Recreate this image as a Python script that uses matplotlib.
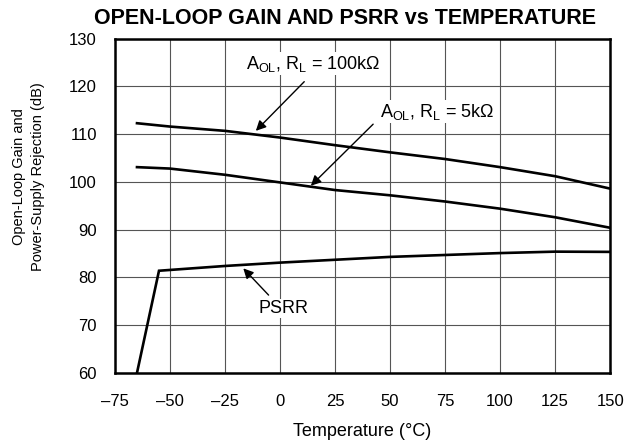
import matplotlib
matplotlib.use("Agg")
import matplotlib.pyplot as plt

plt.rcParams['font.family'] = ['Liberation Sans', 'DejaVu Sans']

temp_100k = [-65, -50, -25, 0, 25, 50, 75, 100, 125, 150]
aol_100k = [112.3, 111.6, 110.7, 109.3, 107.7, 106.2, 104.8, 103.1, 101.2, 98.6]
temp_5k = [-65, -50, -25, 0, 25, 50, 75, 100, 125, 150]
aol_5k = [103.1, 102.8, 101.5, 99.9, 98.3, 97.2, 95.9, 94.4, 92.6, 90.4]
temp_psrr = [-65, -55, -25, 0, 25, 50, 75, 100, 125, 150]
psrr = [60.0, 81.4, 82.4, 83.1, 83.7, 84.3, 84.7, 85.1, 85.4, 85.35]

xticks = [-75, -50, -25, 0, 25, 50, 75, 100, 125, 150]
xticklabels = ['–75', '–50', '–25', '0', '25', '50', '75', '100', '125', '150']
yticks = [60, 70, 80, 90, 100, 110, 120, 130]

fig = plt.figure(figsize=(6.3, 4.45), dpi=100)
ax = fig.add_axes([0.1825, 0.162, 0.786, 0.751])

for t, v in [(temp_100k, aol_100k), (temp_5k, aol_5k), (temp_psrr, psrr)]:
    ax.plot(t, v, color='black', lw=1.9, solid_joinstyle='miter')

ax.set_xlim(-75, 150)
ax.set_ylim(60, 130)
ax.set_xticks(xticks)
ax.set_xticklabels(xticklabels)
ax.set_yticks(yticks)
ax.tick_params(axis='x', length=0, labelsize=12, pad=15)
ax.tick_params(axis='y', length=0, labelsize=12, pad=13)
ax.grid(True, color='#555555', lw=0.8)
ax.set_axisbelow(True)
for s in ax.spines.values():
    s.set_linewidth(1.8)

ax.set_xlabel('Temperature (°C)', fontsize=13, labelpad=10)
ax.set_ylabel('Open-Loop Gain and\nPower-Supply Rejection (dB)', fontsize=10.5, linespacing=1.45)
ax.yaxis.set_label_coords(-0.142, 0.587)

fig.text(0.548, 1 - 18 / 445, 'OPEN-LOOP GAIN AND PSRR vs TEMPERATURE',
         fontsize=15.5, fontweight='bold', ha='center', va='center')

arrow = dict(arrowstyle='-|>', color='black', lw=1.0, mutation_scale=15, shrinkA=0, shrinkB=0)
ax.annotate('', xy=(-11, 110.7), xytext=(11, 121), arrowprops=arrow)
ax.text(15, 124.8, r'A$_{\mathregular{OL}}$, R$_{\mathregular{L}}$ = 100k$\mathregular{\Omega}$',
        fontsize=13, ha='center', va='center',
        bbox=dict(facecolor='white', edgecolor='none', pad=1))
ax.annotate('', xy=(14, 99.2), xytext=(42.3, 112.1), arrowprops=arrow)
ax.text(71.5, 114.7, r'A$_{\mathregular{OL}}$, R$_{\mathregular{L}}$ = 5k$\mathregular{\Omega}$',
        fontsize=13, ha='center', va='center',
        bbox=dict(facecolor='white', edgecolor='none', pad=1))
ax.annotate('', xy=(-16.7, 81.9), xytext=(-5.2, 76.3), arrowprops=arrow)
ax.text(1.4, 73.5, 'PSRR', fontsize=13, ha='center', va='center',
        bbox=dict(facecolor='white', edgecolor='none', pad=1))

fig.savefig('out.png', dpi=100)
